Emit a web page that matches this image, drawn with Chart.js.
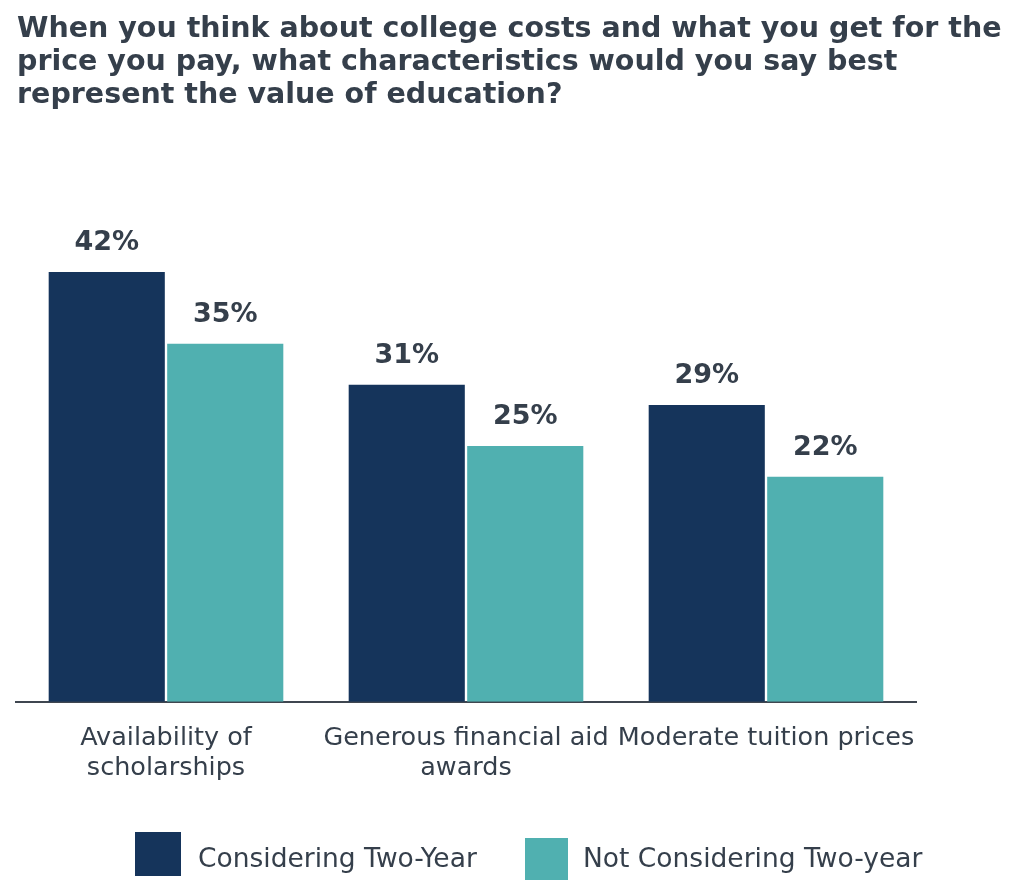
<!DOCTYPE html>
<html>
<head>
<meta charset="utf-8">
<script src="https://cdn.jsdelivr.net/npm/chart.js@4"></script>
<style>
  html, body { margin:0; padding:0; background:#fff; }
  .wrap { width:1024px; height:890px; position:relative; }
  .title { position:absolute; left:17px; top:11px; width:1005px; font:bold 28.5px 'DejaVu Sans', Verdana, sans-serif;
           line-height:33px; color:#353f4b; white-space:nowrap; }
  .lg { position:absolute; font:26.5px 'DejaVu Sans', Verdana, sans-serif; color:#353f4b; white-space:nowrap; }
  .lg-box { position:absolute; }
</style>
</head>
<body>
<div class="wrap">
  <canvas id="ch"></canvas>
  <div class="title" id="title"></div>
  <div id="legend"></div>
</div>
<script>
const titleLines = [
  'When you think about college costs and what you get for the',
  'price you pay, what characteristics would you say best',
  'represent the value of education?'
];
const categories = [
  ['Availability of', 'scholarships'],
  ['Generous financial aid', 'awards'],
  'Moderate tuition prices'
];
const seriesNames = ['Considering Two-Year', 'Not Considering Two-year'];
const considering = [42, 31, 29];
const notConsidering = [35, 25, 22];
const colors = ['#15345b', '#50b0b0'];

const TXT = '#353f4b';
const FONT = "'DejaVu Sans', Verdana, sans-serif";

// title as text lines
const titleEl = document.getElementById('title');
titleLines.forEach(line => {
  const d = document.createElement('div');
  d.textContent = line;
  titleEl.appendChild(d);
});

// value labels above each bar
const valueLabels = {
  id: 'valueLabels',
  afterDatasetsDraw(chart) {
    const ctx = chart.ctx;
    ctx.save();
    ctx.font = 'bold 27px ' + FONT;
    ctx.fillStyle = TXT;
    ctx.textAlign = 'center';
    ctx.textBaseline = 'middle';
    chart.data.datasets.forEach((ds, i) => {
      chart.getDatasetMeta(i).data.forEach((bar, j) => {
        ctx.fillText(ds.data[j] + '%', bar.x, bar.y - 29);
      });
    });
    ctx.restore();
  }
};

new Chart(document.getElementById('ch'), {
  type: 'bar',
  data: {
    labels: categories,
    datasets: [
      { label: seriesNames[0], data: considering, backgroundColor: colors[0],
        categoryPercentage: 0.79, barPercentage: 0.98 },
      { label: seriesNames[1], data: notConsidering, backgroundColor: colors[1],
        categoryPercentage: 0.79, barPercentage: 0.98 }
    ]
  },
  options: {
    responsive: true, maintainAspectRatio: false, animation: false,
    layout: { padding: { top: 180, left: 16, right: 108, bottom: 93 } },
    plugins: {
      legend: { display: false },
      tooltip: { enabled: false }
    },
    scales: {
      x: { grid: { display: false },
        border: { display: true, color: '#3f4650', width: 2 },
        ticks: { color: TXT, font: { family: FONT, size: 25.5, lineHeight: 1.2 }, padding: 13,
          autoSkip: false, maxRotation: 0 } },
      y: { display: false, min: 0, max: 51 }
    }
  },
  plugins: [valueLabels]
});

// legend below the chart
const legendPos = [
  { box: [135, 832, 46, 44], text: [198, 858] },
  { box: [525, 838, 43, 42], text: [583, 858] }
];
const lg = document.getElementById('legend');
seriesNames.forEach((name, i) => {
  const p = legendPos[i];
  const b = document.createElement('div');
  b.className = 'lg-box';
  b.style.cssText = `left:${p.box[0]}px;top:${p.box[1]}px;width:${p.box[2]}px;height:${p.box[3]}px;background:${colors[i]}`;
  const t = document.createElement('div');
  t.className = 'lg';
  t.style.cssText = `left:${p.text[0]}px;top:${p.text[1] - 17}px;line-height:34px`;
  t.textContent = name;
  lg.appendChild(b);
  lg.appendChild(t);
});
</script>
</body>
</html>
